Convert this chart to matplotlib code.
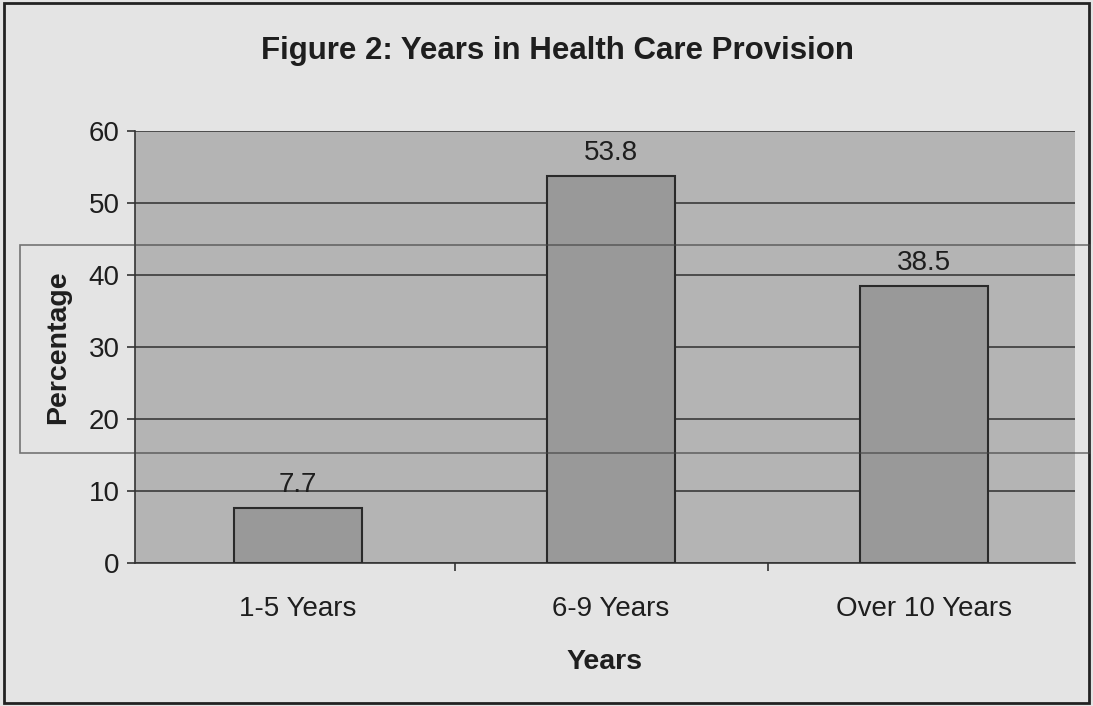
import matplotlib.pyplot as plt
from matplotlib.patches import Rectangle

# ---------------- DATA ----------------
categories = ["1-5 Years", "6-9 Years", "Over 10 Years"]
percentages = [7.7, 53.8, 38.5]
y_ticks = [0, 10, 20, 30, 40, 50, 60]

plt.rcParams["font.family"] = ["Liberation Sans", "DejaVu Sans"]

fig = plt.figure(figsize=(10.93, 7.06), dpi=100)
fig.patch.set_facecolor("#e4e4e4")

ax = fig.add_axes([0.1235, 0.2025, 0.86, 0.612])
ax.set_facecolor("#b4b4b4")

x = range(len(categories))
bars = ax.bar(x, percentages, width=0.41, color="#999999",
              edgecolor="#2a2a2a", linewidth=1.5, zorder=3)

# value labels above the bars
for xi, val in zip(x, percentages):
    ax.annotate(f"{val}", (xi, val), xytext=(0, 16.5), textcoords="offset points",
                ha="center", va="center", fontsize=20, color="#1e1e1e", zorder=4)

ax.set_xlim(-0.521, 2.482)
ax.set_ylim(0, 60)
ax.set_yticks(y_ticks)
ax.tick_params(axis="y", labelsize=20, length=6, width=1.2,
               colors="#333333", labelcolor="#1e1e1e", pad=5)

# category labels, with tick marks between the categories
ax.set_xticks(list(x))
ax.set_xticklabels(categories, fontsize=20, color="#1e1e1e")
ax.tick_params(axis="x", length=0, pad=24)
ax.set_xticks([0.5, 1.5], minor=True)
ax.tick_params(axis="x", which="minor", length=6, width=1.2, color="#333333")

ax.grid(axis="y", color="#3a3a3a", linewidth=1.2, zorder=1)
ax.set_axisbelow(True)

for side in ["top", "right"]:
    ax.spines[side].set_visible(False)
ax.spines["left"].set_color("#333333")
ax.spines["bottom"].set_color("#333333")
ax.spines["left"].set_linewidth(1.2)
ax.spines["bottom"].set_linewidth(1.2)

ax.set_xlabel("Years", fontsize=20.5, fontweight="bold", color="#1e1e1e", labelpad=19)
ax.set_ylabel("Percentage", fontsize=20.5, fontweight="bold", color="#1e1e1e", labelpad=13)

fig.text(0.510, 0.928, "Figure 2: Years in Health Care Provision", ha="center",
         va="center", fontsize=22.5, fontweight="bold", color="#1e1e1e")

# outer frame and the faint box showing through the scan
fig.add_artist(Rectangle((0.004, 0.004), 0.992, 0.992, transform=fig.transFigure,
                         fill=False, edgecolor="#222222", linewidth=2))
fig.add_artist(Rectangle((20 / 1093, 1 - 453 / 706), 1070 / 1093, 208 / 706,
                         transform=fig.transFigure, fill=False,
                         edgecolor="#444444", linewidth=1.2, alpha=0.7))

fig.savefig("out.png", dpi=100, facecolor=fig.get_facecolor())
